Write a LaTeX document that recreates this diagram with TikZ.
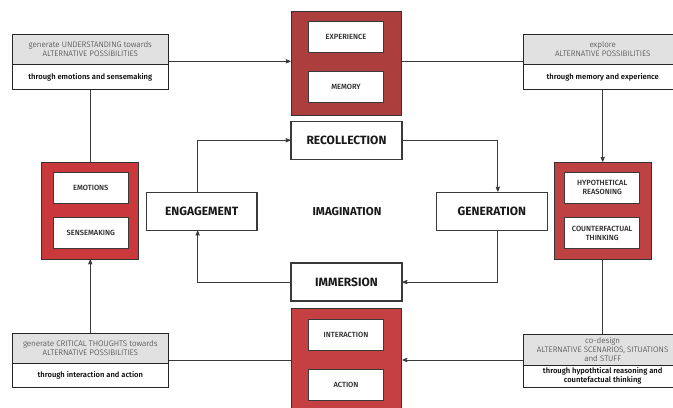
\documentclass[tikz,border=0pt]{standalone}
\usepackage{fontspec}
\setmainfont{Fira Sans}
\newfontfamily\firalight{Fira Sans Light}
\newfontfamily\firamed{Fira Sans Medium}
\usepackage{tikz}
\usetikzlibrary{shapes}
\usetikzlibrary{arrows}
\definecolor{redtop}{HTML}{AD3E3E}
\definecolor{redleft}{HTML}{C9393C}
\definecolor{redright}{HTML}{BE4243}
\definecolor{redbot}{HTML}{C44043}
\definecolor{headgray}{HTML}{E1E1E1}
\definecolor{linegray}{HTML}{3A3A3A}
\tikzset{
	main node/.style={rectangle,draw,line width=1.2pt,fill=white,minimum width=111pt,minimum height=38pt,text=black!90,font=\fontsize{12}{14}\selectfont\bfseries},
	red box/.style={rectangle,draw=black!80,line width=1pt,minimum width=#1,minimum height=#1},
	item node/.style={rectangle,draw,line width=0.9pt,fill=white,minimum width=75pt,minimum height=31pt,align=center,text=black!85,font=\firamed\fontsize{7.5}{9.2}\selectfont},
	head node/.style={rectangle,draw=black!85,line width=0.8pt,fill=headgray,minimum width=156pt,minimum height=30pt,inner sep=1pt,align=center,text=black!80,font=\firalight\fontsize{8}{9}\selectfont},
	sub node/.style={rectangle,draw=black!85,line width=0.8pt,fill=white,minimum width=156pt,minimum height=25pt,inner sep=0.5pt,align=center,text=black,font=\firamed\fontsize{7.6}{8.6}\selectfont}
}

\begin{document}
\begin{tikzpicture}[x=1pt,y=-1pt,->,>=stealth',every path/.style={draw=linegray,line width=0.8pt}]
	\useasboundingbox (0,0) rectangle (673,407);
	\fill[white] (0,0) rectangle (673,407);
	\coordinate (toprow) at (0,61);
	\coordinate (botrow) at (0,360);

	% red boxes with their items
	\node [red box=104pt,minimum width=111pt,fill=redtop] (topred) at (346.5,63) {};
	\node [item node] (exp) at (346,36.5) {EXPERIENCE};
	\node [item node] (mem) at (346,86.5) {MEMORY};

	\node [red box=97pt,fill=redleft] (leftred) at (90,210.5) {};
	\node [item node] (emo) at (90.5,187.5) {EMOTIONS};
	\node [item node] (sense) at (90.5,233) {SENSEMAKING};

	\node [red box=97pt,fill=redright] (rightred) at (603,210.5) {};
	\node [item node] (hyp) at (602.5,187.5) {HYPOTHETICAL\\REASONING};
	\node [item node] (cf) at (602.5,233) {COUNTERFACTUAL\\THINKING};

	\node [red box=104pt,minimum width=111pt,fill=redbot] (botred) at (346.5,360) {};
	\node [item node] (inter) at (346,335) {INTERACTION};
	\node [item node] (act) at (346,385) {ACTION};

	% imagination cycle
	\node [main node] (rec) at (346.5,140) {RECOLLECTION};
	\node [main node] (eng) at (201.5,211) {ENGAGEMENT};
	\node [main node] (gen) at (492,211) {GENERATION};
	\node [main node] (imm) at (346.5,282) {IMMERSION};
	\node [font=\fontsize{11.5}{13}\selectfont\bfseries,text=black!90] (ima) at (347,211) {IMAGINATION};

	% outer boxes
	\node [head node] (tlhead) at (90,49) {generate UNDERSTANDING towards\\ALTERNATIVE POSSIBILITIES};
	\node [sub node] (tlsub) at (90,76.5) {through emotions and sensemaking};
	\node [head node,minimum width=158pt] (trhead) at (603,49) {explore\\ALTERNATIVE POSSIBILITIES};
	\node [sub node,minimum width=158pt] (trsub) at (603,76.5) {through memory and experience};
	\node [head node] (blhead) at (90,348) {generate CRITICAL THOUGHTS towards\\ALTERNATIVE POSSIBILITIES};
	\node [sub node,minimum height=24pt] (blsub) at (90,375) {through interaction and action};
	\node [head node,minimum width=158pt,minimum height=31pt] (brhead) at (603,349.5) {co-design\\ALTERNATIVE SCENARIOS, SITUATIONS\\and STUFF};
	\node [sub node,minimum width=158pt,minimum height=22pt] (brsub) at (603,376) {through hypothtical reasoning and\\countefactual thinking};

	% connectors
	\draw (tlhead.east |- toprow) -- (topred.west |- toprow);
	\draw[-] (topred.east |- toprow) -- (trhead.west |- toprow);
	\draw (trsub.south) -- (rightred.north);
	\draw[-] (rightred.south) -- (brhead.north);
	\draw (brhead.west |- botrow) -- (botred.east |- botrow);
	\draw[-] (botred.west |- botrow) -- (blhead.east |- botrow);
	\draw (blhead.north) -- (leftred.south);
	\draw[-] (tlsub.south) -- (leftred.north);

	\draw ([xshift=-4pt]eng.north) |- (rec.west);
	\draw (rec.east) -| ([xshift=6pt]gen.north);
	\draw ([xshift=6pt]gen.south) |- (imm.east);
	\draw (imm.west) -| ([xshift=-4pt]eng.south);
\end{tikzpicture}
\end{document}
